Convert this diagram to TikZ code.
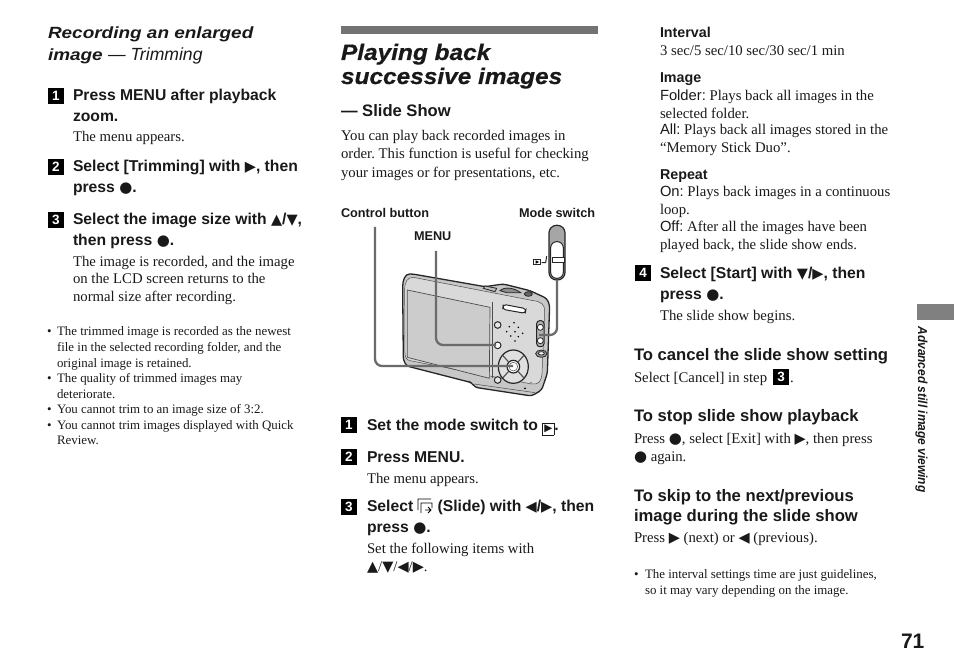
\documentclass[tikz,border=0pt]{standalone}
\usepackage{fontspec}
\setmainfont{Liberation Serif}
\setsansfont{Liberation Sans}
\newfontfamily\widefont[FakeStretch=1.09,BoldItalicFeatures={FakeBold=0.6}]{Liberation Sans}
\newfontfamily\subfont[FakeStretch=1.17]{Liberation Sans}
\newfontfamily\narrowfont[FakeStretch=0.92]{Liberation Sans}
\newfontfamily\symfont{DejaVu Sans}
\newcommand\fsz[1]{\fontsize{#1}{#1}\selectfont}
\newcommand\rarr{{\symfont\fontsize{14.5}{10}\selectfont ▶}}
\newcommand\larr{{\symfont\fontsize{14.5}{10}\selectfont ◀}}
\newcommand\uarr{{\symfont\fontsize{14.5}{10}\selectfont ▲}}
\newcommand\darr{{\symfont\fontsize{14.5}{10}\selectfont ▼}}
\newcommand\cdotb{{\symfont\fontsize{15}{10}\selectfont ●}}
\newcommand\txt[5]{\node[#4] (#1) at (#2,#3) {\frenchspacing #5};}
\newcommand\stp[4]{\node[badge] (#1) at (#2,#3) {#4};}
\tikzset{
 x=1pt,y=-1pt,
 base/.style={anchor=base west,inner sep=0pt,outer sep=0pt,text=black!90,yshift=-0.5pt},
 body/.style={base,font=\rmfamily\fsz{14.75}},
 small/.style={base,font=\rmfamily\fsz{12.9},yshift=-0.7pt},
 stephead/.style={base,font=\sffamily\bfseries\fsz{15.7},yshift=-0.2pt},
 subhead/.style={base,font=\sffamily\bfseries\fsz{14.3},yshift=-0.1pt},
 sect/.style={base,font=\sffamily\bfseries\fsz{16.65}},
 lab/.style={base,font=\sffamily\bfseries\fsz{12.7}},
 title/.style={base,font=\widefont\bfseries\itshape\fsz{22.4},yshift=0pt},
 subt/.style={base,font=\subfont\bfseries\itshape\fsz{16.2}},
 badge/.style={fill=black,text=white,font=\sffamily\bfseries\fsz{13.5},minimum size=15.5pt,inner sep=0pt,outer sep=0pt},
 leader/.style={draw=black!58,line width=2.3pt,rounded corners=7pt},
 cam/.style={draw=black!85,line width=0.8pt},
 camfine/.style={draw=black!70,line width=0.5pt},
}
\begin{document}
\begin{tikzpicture}
\useasboundingbox (0,0) rectangle (954,671);
% ---------- left column
\txt{a1}{48}{38.5}{subt}{Recording an enlarged}
\txt{a2}{48}{60}{subt}{image {\sffamily\mdseries\itshape\fsz{17.6}--- Trimming}}
\stp{s1}{56}{96}{1}
\txt{a3}{73}{100}{stephead}{Press MENU after playback}
\txt{a4}{73}{121}{stephead}{zoom.}
\txt{a5}{73}{141.5}{body}{The menu appears.}
\stp{s2}{56}{167}{2}
\txt{a6}{73}{171}{stephead}{Select [Trimming] with \rarr, then}
\txt{a7}{73}{192}{stephead}{press \cdotb.}
\stp{s3}{56}{220}{3}
\txt{a8}{73}{224}{stephead}{Select the image size with \uarr/\darr,}
\txt{a9}{73}{245}{stephead}{then press \cdotb.}
\txt{a10}{73}{266}{body}{The image is recorded, and the image}
\txt{a11}{73}{283.5}{body}{on the LCD screen returns to the}
\txt{a12}{73}{301}{body}{normal size after recording.}
\txt{b0}{47}{334}{small}{•}
\txt{b1}{57}{334}{small}{The trimmed image is recorded as the newest}
\txt{b2}{57}{350}{small}{file in the selected recording folder, and the}
\txt{b3}{57}{366}{small}{original image is retained.}
\txt{b4}{47}{381}{small}{•}
\txt{b5}{57}{381}{small}{The quality of trimmed images may}
\txt{b6}{57}{397}{small}{deteriorate.}
\txt{b7}{47}{412}{small}{•}
\txt{b8}{57}{412}{small}{You cannot trim to an image size of 3:2.}
\txt{b9}{47}{428}{small}{•}
\txt{b10}{57}{428}{small}{You cannot trim images displayed with Quick}
\txt{b11}{57}{443}{small}{Review.}
% ---------- middle column
\fill[black!55] (341,26) rectangle (598,34);
\txt{c1}{341}{59.5}{title}{Playing back}
\txt{c2}{341}{83.5}{title}{successive images}
\txt{c3}{341}{116}{base,font=\sffamily\bfseries\fsz{16.6}}{--- Slide Show}
\txt{c4}{341}{140}{body}{You can play back recorded images in}
\txt{c5}{341}{158.5}{body}{order. This function is useful for checking}
\txt{c6}{341}{177}{body}{your images or for presentations, etc.}
\txt{l1}{341}{217.5}{lab}{Control button}
\txt{l2}{519}{217.5}{lab}{Mode switch}
\txt{l3}{414}{240}{lab}{MENU}
% camera
\begin{scope}[shift={(400,270)},scale=1/3]
 % body
 \filldraw[cam,fill=black!22,line width=1.3pt,rounded corners=3pt] (8,60) .. controls (8,30) and (15,12) .. (38,12) -- (255,50) -- (310,42) -- (390,62) -- (440,85) -- (449,105) -- (442,310) -- (425,360) -- (395,378) -- (225,352) -- (215,338) -- (20,288) -- (10,270) -- cycle;
 \draw[camfine,fill=black!15] (14,60) .. controls (14,35) and (22,22) .. (40,22) -- (400,92) .. controls (425,95) and (435,105) .. (434,125) -- (426,310) .. controls (424,335) and (415,345) .. (395,342) -- (30,272) .. controls (20,270) and (15,262) .. (15,250) -- cycle;
 \draw[camfine,fill=black!20,line width=0.7pt] (22,60) -- (270,112) -- (268,325) -- (22,262) -- cycle;
 \draw[camfine] (276,95) -- (276,325);
 \draw[cam,fill=black!25] (255,48) -- (290,55) -- (285,65) -- (250,55) -- cycle;
 \draw[cam,fill=black!45] (300,62) .. controls (315,48) and (345,55) .. (362,68) -- (320,68) -- cycle;
 \filldraw[cam,fill=black!60] (385,72) ellipse (12 and 7);
 \draw[cam,fill=white,line width=1pt,rounded corners=3pt] (310,103) -- (378,116) -- (376,130) -- (308,118) -- cycle;
 \draw[cam,fill=black!10,line width=1pt] (293,165) circle (10);
 \draw[cam,fill=white,line width=1pt] (293,226) circle (10);
 \draw[cam,fill=black!10,line width=1pt] (293,330) circle (10);
 \foreach \i/\j in {342/158,328/170,355/172,320/185,345/185,368/190,332/198,355/200,345/213}
   \fill[black] (\i,\j) circle (2.6);
 \draw[cam,fill=black!12,line width=1.2pt] (340,290) ellipse (45 and 50);
 \draw[camfine,line width=1.1pt] (308,256) -- (325,275) (372,256) -- (355,275) (308,324) -- (325,305) (372,324) -- (355,305);
 \draw[cam,fill=white,line width=1.2pt] (340,290) circle (19);
 \draw[camfine,fill=white] (340,290) circle (13);
 \draw[cam,fill=black!30,line width=1pt,rounded corners=3pt] (410,152) rectangle (432,230);
 \draw[cam,fill=white] (421,172) circle (9);
 \draw[cam,fill=white] (421,212) circle (9);
 \draw[cam,fill=black!40] (424,251) ellipse (17 and 11);
 \draw[cam,fill=white] (424,250) ellipse (9 and 5);
 \fill[black] (375,355) circle (3);
 \fill[black] (393,337) circle (1.5);
 \draw[camfine] (222,342) -- (405,368);
\end{scope}
% mode switch detail
\begin{scope}[shift={(530,220)},scale=1/3]
 \draw[cam,fill=black!35,line width=1.2pt,rounded corners=7.5pt] (57,16) rectangle (105,180);
 \draw[cam,fill=white,line width=1pt,rounded corners=6pt] (62,65) rectangle (100,175);
 \draw[cam,fill=white] (66,112) -- (103,112) -- (103,128) -- (66,128) -- cycle;
 \draw[cam,fill=white,line width=1pt] (10,118) rectangle (32,134);
 \fill[black] (17,121) -- (27,126) -- (17,131) -- cycle;
 \draw[cam,line width=1pt] (35,128) -- (47,128) -- (50,108);
\end{scope}
% leaders
\coordinate (ctlTop) at (375,227);
\coordinate (ctlEnd) at (513,366);
\coordinate (menuTop) at (436,251);
\coordinate (menuEnd) at (496,345);
\coordinate (modeTop) at (557,280);
\coordinate (modeEnd) at (539,335);
\draw[leader] (ctlTop) -- (ctlTop |- ctlEnd) -- (ctlEnd);
\draw[leader] (menuTop) -- (menuTop |- menuEnd) -- (menuEnd);
\draw[leader] (modeTop) -- (modeTop |- modeEnd) -- (modeEnd);
\stp{s4}{349}{425}{1}
\txt{d1}{367}{430}{stephead}{Set the mode switch to \setlength{\fboxsep}{1.6pt}\setlength{\fboxrule}{0.4pt}\raisebox{-1.2pt}{\framebox{\symfont\fontsize{10.5}{8}\selectfont ▶}}.}
\stp{s5}{349}{457}{2}
\txt{d2}{367}{462}{stephead}{Press MENU.}
\txt{d3}{367}{482.5}{body}{The menu appears.}
\stp{s6}{349}{507}{3}
\txt{d4}{367}{511}{stephead}{Select \hspace{20pt}(Slide) with \larr/\rarr, then}
\draw[black,line width=0.8pt] (418,510) -- (418,499) -- (431,499) (421,513) -- (421,503) -- (432,503) -- (432,508) (425,510) -- (431,510) (428,507) -- (431,510) -- (428,513);
\txt{d5}{367}{532}{stephead}{press \cdotb.}
\txt{d6}{367}{552.5}{body}{Set the following items with}
\txt{d7}{367}{571}{body}{\uarr/\darr/\larr/\rarr.}
% ---------- right column
\txt{e1}{660}{37}{subhead}{Interval}
\txt{e2}{660}{55}{body}{3 sec/5 sec/10 sec/30 sec/1 min}
\txt{e3}{660}{82}{subhead}{Image}
\txt{e4}{660}{100}{body}{{\sffamily Folder:} Plays back all images in the}
\txt{e5}{660}{118}{body}{selected folder.}
\txt{e6}{660}{134}{body}{{\sffamily All:} Plays back all images stored in the}
\txt{e7}{660}{152}{body}{“Memory Stick Duo”.}
\txt{e8}{660}{179}{subhead}{Repeat}
\txt{e9}{660}{196}{body}{{\sffamily On:} Plays back images in a continuous}
\txt{e10}{660}{214}{body}{loop.}
\txt{e11}{660}{231}{body}{{\sffamily Off:} After all the images have been}
\txt{e12}{660}{249}{body}{played back, the slide show ends.}
\stp{s7}{643}{273}{4}
\txt{e13}{660}{278}{stephead}{Select [Start] with \darr/\rarr, then}
\txt{e14}{660}{299}{stephead}{press \cdotb.}
\txt{e15}{660}{320}{body}{The slide show begins.}
\txt{f1}{634}{360}{sect}{To cancel the slide show setting}
\txt{f2}{634}{382}{body}{Select [Cancel] in step}
\stp{s8}{781}{377}{3}
\txt{f2b}{790}{382}{body}{.}
\txt{f3}{634}{421}{sect}{To stop slide show playback}
\txt{f4}{634}{443}{body}{Press \cdotb, select [Exit] with \rarr, then press}
\txt{f5}{634}{461}{body}{\cdotb{} again.}
\txt{f6}{634}{501}{sect}{To skip to the next/previous}
\txt{f7}{634}{521}{sect}{image during the slide show}
\txt{f8}{634}{542}{body}{Press \rarr{} (next) or \larr{} (previous).}
\txt{g0}{634}{577}{small}{•}
\txt{g1}{645}{577}{small}{The interval settings time are just guidelines,}
\txt{g2}{645}{593}{small}{so it may vary depending on the image.}
\txt{pg}{901}{648}{base,font=\sffamily\bfseries\fsz{21}}{71}
\fill[black!50] (917,304) rectangle (954,320);
\node[inner sep=0pt,rotate=-90,font=\narrowfont\bfseries\itshape\fsz{13},text=black!90] (side) at (921.5,409.5) {Advanced still image viewing};
\end{tikzpicture}
\end{document}
